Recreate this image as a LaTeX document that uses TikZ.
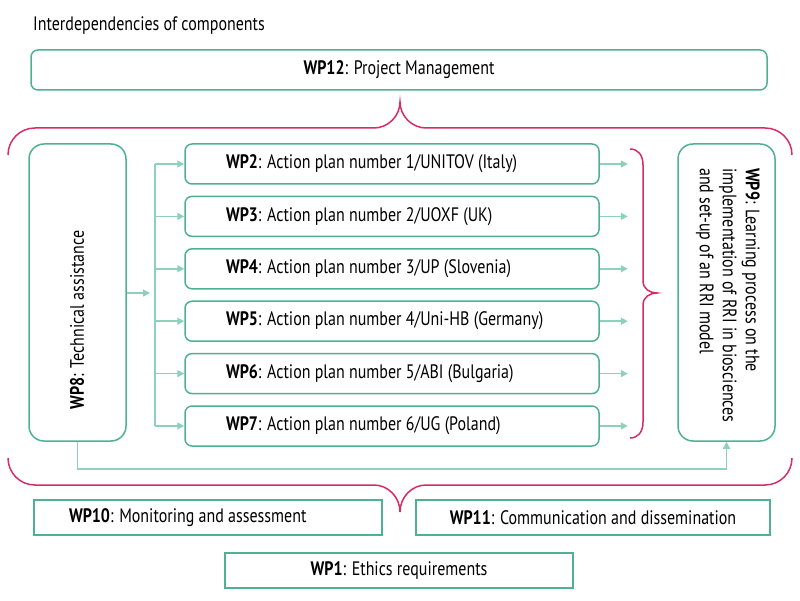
\documentclass[tikz,border=0pt]{standalone}
\usepackage{fontspec}
\setmainfont[FakeStretch=0.82]{PT Sans}
\usetikzlibrary{arrows.meta}

\definecolor{wpgreen}{RGB}{78,178,146}
\definecolor{arrowgreen}{RGB}{140,210,186}
\definecolor{bracered}{RGB}{214,44,100}

\newcommand{\plantext}[2]{\makebox[332pt][l]{\textbf{#1}: #2}}

\tikzset{
  wpbox/.style={draw=wpgreen, line width=1.5pt, rounded corners=7pt, inner sep=0pt},
  planbox/.style={wpbox, minimum width=414, minimum height=40},
  flatbox/.style={draw=wpgreen, line width=1.5pt, inner sep=0pt, minimum width=348, minimum height=35},
  sidebox/.style={wpbox, rounded corners=15pt, minimum width=97, minimum height=297},
  link/.style={draw=arrowgreen, line width=1.5pt},
  linkarrow/.style={link, -{Triangle[length=7pt,width=7pt]}},
  brace/.style={draw=bracered, line width=1.5pt}
}

\begin{document}
\begin{tikzpicture}[x=1pt, y=-1pt, font=\fontsize{19.5}{23}\selectfont]
  \useasboundingbox (0,0) rectangle (800,601);

  \node[anchor=base west, inner sep=0pt] (title) at (33,31) {Interdependencies of components};

  \node[wpbox, minimum width=736, minimum height=40] (wp12) at (399,70) {\textbf{WP12}: Project Management};

  % upper brace
  \draw[brace] (8,155) .. controls (8,140) and (20,128) .. (35,128) -- (374,128)
    .. controls (388,128) and (400,116) .. (400,102)
    .. controls (400,116) and (412,128) .. (426,128) -- (765,128)
    .. controls (780,128) and (792,140) .. (792,155);

  % side boxes
  \node[sidebox] (wp8) at (77.5,292.5) {};
  \node[rotate=90, inner sep=0pt] (wp8text) at (77,320) {\textbf{WP8}: Technical assistance};
  \node[sidebox] (wp9) at (726.5,292.5) {};
  \node[rotate=-90, anchor=north west, align=left, inner sep=0pt] (wp9text) at (760,168)
    {\textbf{WP9}: Learning process on the\\implementation of RRI in biosciences\\and set-up of an RRI model};

  % action plans
  \node[planbox] (wp2) at (392,164) {\plantext{WP2}{Action plan number 1/UNITOV (Italy)}};
  \node[planbox] (wp3) at (392,216.4) {\plantext{WP3}{Action plan number 2/UOXF (UK)}};
  \node[planbox] (wp4) at (392,268.8) {\plantext{WP4}{Action plan number 3/UP (Slovenia)}};
  \node[planbox] (wp5) at (392,321.2) {\plantext{WP5}{Action plan number 4/Uni-HB (Germany)}};
  \node[planbox] (wp6) at (392,373.6) {\plantext{WP6}{Action plan number 5/ABI (Bulgaria)}};
  \node[planbox] (wp7) at (392,426) {\plantext{WP7}{Action plan number 6/UG (Poland)}};

  % distribution from WP8
  \coordinate (split) at (150,293);
  \coordinate (splittop) at (155,164);
  \coordinate (splitbot) at (155,426);
  \draw[linkarrow] (wp8.east |- split) -- (split);
  \draw[link] (splittop) -- (splitbot);
  \foreach \wp in {wp2,wp3,wp4,wp5,wp6,wp7} {
    \draw[linkarrow] (splittop |- \wp.west) -- (\wp.west);
    \coordinate (\wp out) at ([xshift=28]\wp.east);
    \draw[linkarrow] (\wp.east) -- (\wp out);
  }

  % right brace
  \draw[brace] (630,149) .. controls (638,149) and (643,155) .. (643,165) -- (643,281)
    .. controls (643,289) and (650,293) .. (657,293)
    .. controls (650,293) and (643,297) .. (643,305) -- (643,422)
    .. controls (643,432) and (638,438) .. (630,438);

  % WP8 to WP9
  \draw[linkarrow] (wp8.south) -- ++(0,27) -| (wp9.south);

  % lower brace
  \draw[brace] (8,458) .. controls (8,473) and (20,485) .. (35,485) -- (374,485)
    .. controls (388,485) and (400,497) .. (400,512)
    .. controls (400,497) and (412,485) .. (426,485) -- (765,485)
    .. controls (780,485) and (792,473) .. (792,458);

  % bottom boxes
  \node[flatbox] (wp10) at (208,517.5) {\makebox[278pt][l]{\textbf{WP10}: Monitoring and assessment}};
  \node[flatbox, minimum width=354] (wp11) at (593,517.5) {\textbf{WP11}: Communication and dissemination};
  \node[flatbox] (wp1) at (399,570.5) {\textbf{WP1}: Ethics requirements};
\end{tikzpicture}
\end{document}
